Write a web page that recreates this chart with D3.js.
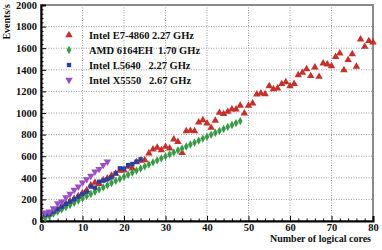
<!DOCTYPE html>
<html><head><meta charset="utf-8">
<script src="https://cdn.jsdelivr.net/npm/d3@7"></script>
<style>
body{margin:0;background:#fff}
svg text{font-family:"Liberation Serif","Times New Roman",serif;font-weight:bold;fill:#111}
</style></head><body>
<svg id="c" width="382" height="250"></svg>
<script>
// ---- data ----
const seriesNames = ["Intel E7-4860 2.27 GHz", "AMD 6164EH  1.70 GHz", "Intel L5640   2.27 GHz", "Intel X5550   2.67 GHz"];
const e7Values = [55,65,88,110,135,160,182,205,230,258,285,330,355,345,380,395,420,440,466,470,503,488,545,560,565,627,664,679,657,688,673,756,734,632,833,836,833,914,935,904,864,929,1003,991,1012,1034,1034,1068,997,1068,1090,1173,1182,1176,1250,1222,1228,1269,1287,1250,1271,1352,1373,1407,1343,1423,1336,1460,1451,1435,1521,1552,1398,1491,1546,1429,1682,1614,1667,1654];
const amdValues = [25,45,68,87,108,128,148,168,189,209,230,250,271,291,311,331,351,371,390,410,429,448,467,486,505,524,543,562,580,598,617,635,654,672,690,708,727,745,763,781,799,817,835,853,871,889,907,925];
const l5640Values = [56,62,86,108,132,157,179,201,225,250,271,318,308,364,373,386,404,441,488,485,518,528,549,571];
const x5550Values = [77,86,117,164,179,219,250,287,318,355,386,417,457,481,518,549];
const xTicks = [0,10,20,30,40,50,60,70,80];
const yTicks = [0,200,400,600,800,1000,1200,1400,1600,1800,2000];
const xTitle = "Number of logical cores";
const yTitle = "Events/s";

// ---- styles ----
const colors = ["#c4302b", "#3a9a48", "#2b3f9e", "#9a4fc4"];
const symbols = [d3.symbolTriangle, d3.symbolDiamond, d3.symbolSquare, d3.symbolTriangle];
const symSize = [24, 20, 19, 24];
const rot = [0, 0, 0, 180];

const svg = d3.select("#c");
const L = 41, R = 373, T = 5, B = 221;
const x = d3.scaleLinear().domain([0, 80]).range([L, R]);
const y = d3.scaleLinear().domain([0, 2000]).range([B, T]);

// grid
const g = svg.append("g");
g.selectAll(".gx").data(xTicks.slice(1, -1)).enter().append("line")
  .attr("x1", d => x(d)).attr("x2", d => x(d)).attr("y1", B).attr("y2", T)
  .attr("stroke", "#9a9a9a").attr("stroke-width", 1).attr("stroke-dasharray", "1,1.5");
g.selectAll(".gy").data(yTicks.slice(1, -1)).enter().append("line")
  .attr("y1", d => y(d)).attr("y2", d => y(d)).attr("x1", L).attr("x2", R)
  .attr("stroke", "#9a9a9a").attr("stroke-width", 1).attr("stroke-dasharray", "1,1.5");

// frame
svg.append("rect").attr("x", L).attr("y", T).attr("width", R - L).attr("height", B - T)
  .attr("fill", "none").attr("stroke", "#8a8a8a").attr("stroke-width", 2);

// axes
const xMinor = d3.range(0, 81, 2).filter(v => v % 10 !== 0);
const yMinor = d3.range(0, 2001, 40).filter(v => v % 200 !== 0);
svg.append("g").attr("transform", `translate(0,${B})`)
  .call(d3.axisBottom(x).tickValues(xTicks).tickSize(-5).tickPadding(3).tickFormat(d3.format("d")));
svg.append("g").attr("transform", `translate(0,${B})`)
  .call(d3.axisBottom(x).tickValues(xMinor).tickSize(-2.5).tickFormat(""))
  .call(s => s.select(".domain").remove());
svg.append("g").attr("transform", `translate(${L},0)`)
  .call(d3.axisLeft(y).tickValues(yTicks).tickSize(-5).tickPadding(4).tickFormat(d3.format("d")));
svg.append("g").attr("transform", `translate(${L},0)`)
  .call(d3.axisLeft(y).tickValues(yMinor).tickSize(-2.5).tickFormat(""))
  .call(s => s.select(".domain").remove());
svg.selectAll(".domain").attr("stroke", "#000").attr("stroke-width", 2);
svg.selectAll(".tick line").attr("stroke", "#000").attr("stroke-width", 1);
svg.selectAll(".tick text").style("font-family", '"Liberation Serif",serif').style("font-weight", "bold").style("font-size", "10.5px").attr("fill", "#111");

// titles
svg.append("text").attr("x", 371).attr("y", 242).attr("text-anchor", "end")
  .style("font-size", "10px").text(xTitle);
svg.append("text").attr("transform", "translate(10,4) rotate(-90)").attr("text-anchor", "end")
  .style("font-size", "10px").text(yTitle);

// points
const allSeries = [e7Values, amdValues, l5640Values, x5550Values];
allSeries.forEach((vals, i) => {
  svg.append("g").selectAll("path").data(vals).enter().append("path")
    .attr("d", d3.symbol().type(symbols[i]).size(symSize[i]))
    .attr("transform", (d, k) => `translate(${x(k + 1)},${y(d)}) rotate(${rot[i]})`)
    .attr("fill", colors[i]);
});

// legend
const lg = svg.append("g");
seriesNames.forEach((name, i) => {
  const cy = 35 + i * 15;
  lg.append("path").attr("d", d3.symbol().type(symbols[i]).size(symSize[i]))
    .attr("transform", `translate(69,${cy}) rotate(${rot[i]})`).attr("fill", colors[i]);
  lg.append("text").attr("x", 89).attr("y", cy + 3.5).style("font-size", "10.5px")
    .style("white-space", "pre").attr("xml:space", "preserve").text(name);
});
</script></body></html>
